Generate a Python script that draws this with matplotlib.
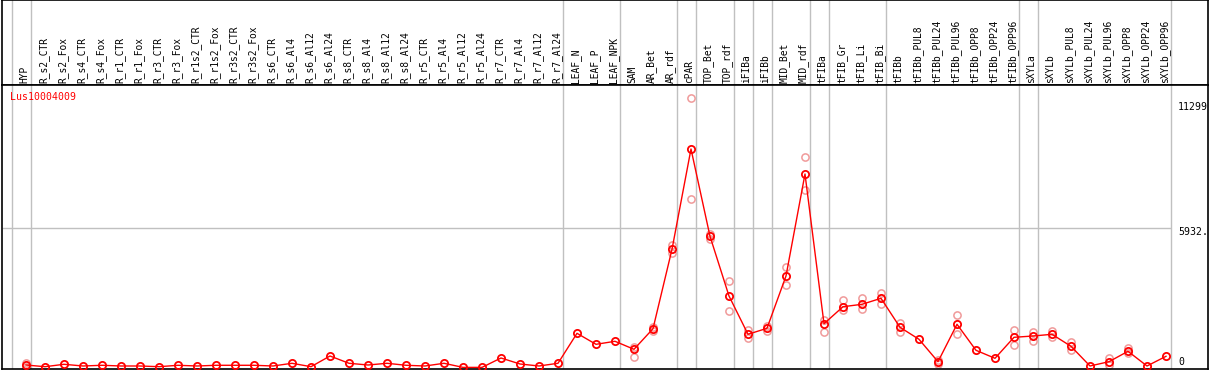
import matplotlib
matplotlib.use("Agg")
import matplotlib.pyplot as plt
from matplotlib.transforms import blended_transform_factory

gene_id = "Lus10004009"

samples = [
    "HYP",
    "R_s2_CTR", "R_s2_Fox", "R_s4_CTR", "R_s4_Fox", "R_r1_CTR", "R_r1_Fox",
    "R_r3_CTR", "R_r3_Fox", "R_r1s2_CTR", "R_r1s2_Fox", "R_r3s2_CTR", "R_r3s2_Fox",
    "R_s6_CTR", "R_s6_Al4", "R_s6_Al12", "R_s6_Al24",
    "R_s8_CTR", "R_s8_Al4", "R_s8_Al12", "R_s8_Al24",
    "R_r5_CTR", "R_r5_Al4", "R_r5_Al12", "R_r5_Al24",
    "R_r7_CTR", "R_r7_Al4", "R_r7_Al12", "R_r7_Al24",
    "LEAF_N", "LEAF_P", "LEAF_NPK",
    "SAM", "AR_Bet", "AR_rdf", "cPAR", "TOP_Bet", "TOP_rdf",
    "iFIBa", "iFIBb", "MID_Bet", "MID_rdf",
    "tFIBa", "tFIB_Gr", "tFIB_Li", "tFIB_Bi",
    "tFIBb", "tFIBb_PUL8", "tFIBb_PUL24", "tFIBb_PUL96",
    "tFIBb_OPP8", "tFIBb_OPP24", "tFIBb_OPP96",
    "sXYLa", "sXYLb", "sXYLb_PUL8", "sXYLb_PUL24", "sXYLb_PUL96",
    "sXYLb_OPP8", "sXYLb_OPP24", "sXYLb_OPP96",
]

mean_expr = [
    106,
    34, 136, 64, 94, 64, 64,
    34, 94, 64, 94, 94, 94,
    64, 179, 34, 489,
    179, 106, 179, 94,
    64, 179, 5, 5,
    404, 149, 64, 179,
    1454, 986, 1114,
    774, 1650, 5026, 9291, 5579, 3040,
    1412, 1667, 3891, 8228,
    1862, 2585, 2687, 2942,
    1709, 1199, 247, 1837,
    731, 391, 1284,
    1339, 1412, 901, 64, 247,
    689, 64, 476,
]

# individual replicates (only where they stand apart from the mean)
replicates = {
    "HYP": [191, 21],
    "SAM": [872, 434],
    "AR_Bet": [1735, 1565],
    "AR_rdf": [5221, 4856],
    "cPAR": [11446, 7152],
    "TOP_Bet": [5676, 5461],
    "TOP_rdf": [3678, 2402],
    "iFIBa": [1594, 1267],
    "iFIBb": [1765, 1565],
    "MID_Bet": [4273, 3495],
    "MID_rdf": [8938, 7535],
    "tFIBa": [2020, 1509],
    "tFIB_Gr": [2857, 2445],
    "tFIB_Li": [2942, 2500],
    "tFIB_Bi": [3180, 2713],
    "tFIBb": [1905, 1497],
    "tFIBb_PUL24": [319, 149],
    "tFIBb_PUL96": [2220, 1412],
    "tFIBb_OPP96": [1594, 969],
    "sXYLa": [1497, 1140],
    "sXYLb": [1552, 1310],
    "sXYLb_PUL8": [1084, 731],
    "sXYLb_PUL96": [391, 106],
    "sXYLb_OPP8": [816, 604],
}

# gray separators sit just right of these sample columns (-1 = left edge)
group_ends = [-1, 0, 28, 31, 34, 35, 37, 38, 39, 41, 42, 45, 52, 53, 60]

y_ticks = [11299, 5932]
y_tick_labels = ["11299", "5932."]


def main():
    W, H = 1209, 370
    fig = plt.figure(figsize=(W / 100, H / 100), dpi=100)
    mono = "DejaVu Sans Mono"
    red = "#ff0000"
    grid = "#c0c0c0"

    x0, x1 = 2, 1208
    head_top, head_bot, plot_bot = 0, 85, 369
    ax_head = fig.add_axes([x0 / W, (H - head_bot) / H, (x1 - x0) / W, (head_bot - head_top) / H])
    ax = fig.add_axes([x0 / W, (H - plot_bot) / H, (x1 - x0) / W, (plot_bot - head_bot) / H])

    # pixel -> data: column i at 26 + 19*i px ; value 0 at 367.5 px, 42.52 per px
    xlim = ((x0 - 26) / 19, (x1 - 26) / 19)
    per_px = 42.52
    ylim = (-(plot_bot - 367.5) * per_px, (367.5 - head_bot) * per_px)

    for a in (ax_head, ax):
        a.set_xlim(*xlim)
        a.set_xticks([])
        a.set_yticks([])
        for s in a.spines.values():
            s.set_color("black")
            s.set_linewidth(1.2)
        for g in group_ends:
            a.axvline(g + 0.237, color=grid, lw=1.0, zorder=0)
    ax_head.set_ylim(0, 1)
    ax.set_ylim(*ylim)

    ax.hlines(y_ticks[1], xlim[0], group_ends[-1] + 0.237, color=grid, lw=1.0, zorder=0)

    xs = list(range(len(samples)))
    trans = blended_transform_factory(ax_head.transData, ax_head.transAxes)
    for i, name in enumerate(samples):
        ax_head.text(i - 0.08, 0.025, name, rotation=90, ha="center", va="bottom",
                     fontsize=6.9, family=mono, transform=trans)

    rx, ry = [], []
    for name, vals in replicates.items():
        i = samples.index(name)
        for v in vals:
            rx.append(i)
            ry.append(v)
    ax.plot(rx, ry, linestyle="none", marker="o", markersize=5.2, markerfacecolor="none",
            markeredgecolor="#f09a9a", markeredgewidth=1.1, zorder=2)

    ax.plot(xs, mean_expr, color=red, lw=1.0, marker="o", markersize=5.2,
            markerfacecolor="none", markeredgecolor=red, markeredgewidth=1.3, zorder=3)

    fig.text(10 / W, 1 - 97 / H, gene_id, color=red, fontsize=7.1, family=mono,
             ha="left", va="center")
    for txt, ypx in zip(y_tick_labels + ["0"], [107, 232, 362]):
        fig.text(1178 / W, 1 - ypx / H, txt, fontsize=7.1, family=mono, ha="left", va="center")

    fig.savefig("out.png", dpi=100)
    plt.close(fig)


if __name__ == "__main__":
    main()
